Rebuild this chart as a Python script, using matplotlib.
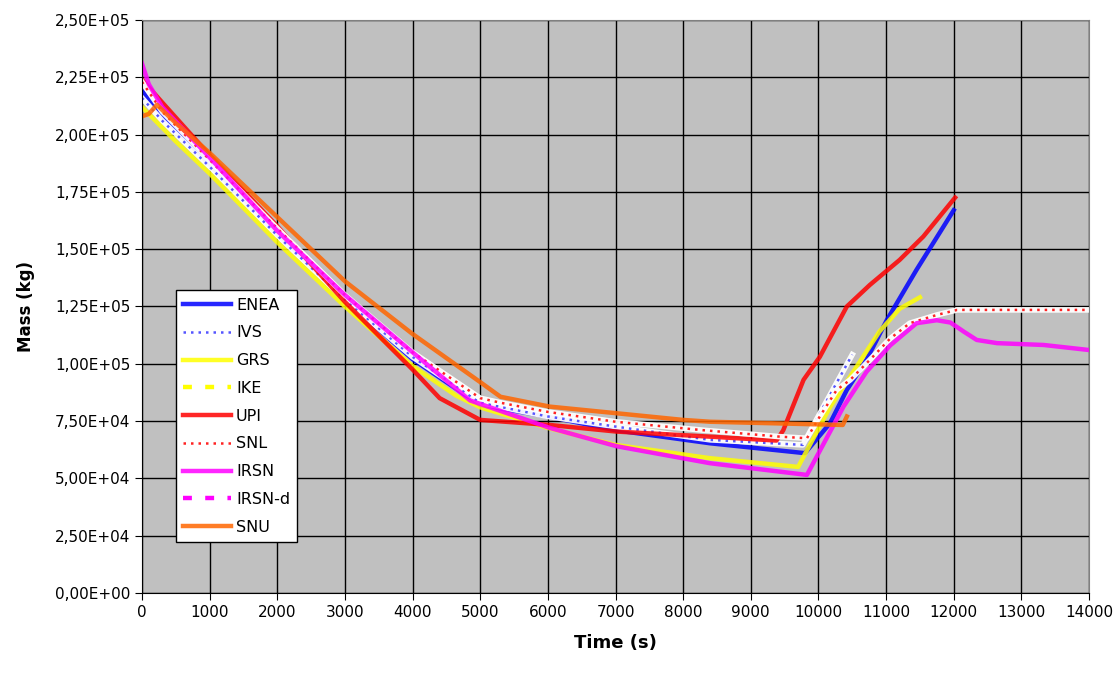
import numpy as np
import matplotlib
matplotlib.use("Agg")
import matplotlib.pyplot as plt
from matplotlib.ticker import FuncFormatter, MultipleLocator

# données (temps en s, masse en kg)
enea_t = [0, 300, 1000, 2000, 3000, 4000, 5000, 6000, 7000, 8400, 9800, 10170, 10420, 10710, 11010, 11450, 12000]
enea_m = [219e3, 208e3, 187e3, 157e3, 128e3, 102e3, 82e3, 77e3, 71e3, 65.3e3, 61e3, 74e3, 88.6e3, 101.7e3, 119e3, 141e3, 167e3]

ivs_t = [0, 300, 1000, 2000, 3000, 4000, 5000, 6000, 7000, 8400, 9770, 10070, 10500]
ivs_m = [216e3, 206e3, 186e3, 156e3, 128e3, 103e3, 83e3, 77e3, 72.6e3, 66.8e3, 64.6e3, 81e3, 104e3]

grs_t = [0, 500, 1000, 2000, 3000, 4000, 4650, 5000, 6000, 7000, 8400, 9700, 10170, 10570, 10900, 11200, 11500]
grs_m = [212e3, 197e3, 183e3, 153e3, 125e3, 99e3, 86e3, 81e3, 72e3, 64.6e3, 58.8e3, 55e3, 81e3, 99e3, 114e3, 124e3, 129e3]

# IKE et IRSN-d : seulement dans la légende
ike_t, ike_m = [], []
irsnd_t, irsnd_m = [], []

upi_t = [0, 300, 1000, 2000, 3000, 4000, 4400, 5000, 6030, 7020, 8400, 9380, 9480, 9780, 10020, 10420, 10760, 11200, 11550, 12020]
upi_m = [224e3, 214e3, 191e3, 160e3, 127e3, 97.5e3, 85e3, 75.5e3, 73.3e3, 70.4e3, 68.2e3, 66.5e3, 71e3, 93e3, 103e3, 125e3, 134.4e3, 145.3e3, 155.5e3, 172.5e3]

snl_t = [0, 300, 1000, 2000, 3000, 4000, 5000, 5300, 6000, 7000, 8300, 9430, 9830, 10020, 10270, 10470, 10760, 11060, 11350, 11750, 12050, 14000]
snl_m = [223e3, 210e3, 189e3, 159e3, 130e3, 105e3, 85e3, 83e3, 79e3, 74.7e3, 71e3, 68.2e3, 67.5e3, 77e3, 88.6e3, 93e3, 101.7e3, 111e3, 117.7e3, 121.3e3, 123.5e3, 123.5e3]

irsn_t = [0, 100, 300, 1000, 2000, 3000, 4000, 4850, 6030, 7020, 8400, 9830, 9975, 10370, 10710, 11060, 11450, 11750, 11950, 12150, 12340, 12640, 13330, 14000]
irsn_m = [231e3, 222e3, 212e3, 190e3, 158e3, 130e3, 105e3, 84e3, 72e3, 64e3, 56.6e3, 51.5e3, 59.5e3, 81.3e3, 96.5e3, 108e3, 117.7e3, 119e3, 118e3, 114e3, 110.4e3, 109e3, 108.2e3, 106e3]

snu_t = [0, 100, 220, 500, 1000, 2000, 3000, 4000, 5000, 5300, 6030, 7020, 8000, 8400, 10360, 10420]
snu_m = [208e3, 209e3, 213e3, 205e3, 192e3, 164e3, 136e3, 113e3, 92e3, 85.6e3, 81.3e3, 78.4e3, 75.5e3, 74.7e3, 73.3e3, 77e3]

fig = plt.figure(figsize=(11.19, 6.8), dpi=100)
ax = fig.add_axes([0.1269, 0.128, 0.8463, 0.8426])
ax.set_facecolor("#C0C0C0")

lw = 3.2
al = 0.85
ax.plot(enea_t, enea_m, color="#0000FF", lw=lw, alpha=al, label="ENEA")
# lignes pointillées : bande blanche + points colorés
ax.plot(ivs_t, ivs_m, color="white", lw=4, alpha=0.95)
ax.plot(ivs_t, ivs_m, color="#5555FF", lw=1.8, ls=(0, (1, 2)), label="IVS")
ax.plot(grs_t, grs_m, color="#FFFF00", lw=lw, alpha=al, label="GRS")
ax.plot(ike_t, ike_m, color="#FFFF00", lw=lw, ls=(0, (2, 3)), label="IKE")
ax.plot(upi_t, upi_m, color="#FF0000", lw=lw, alpha=al, label="UPI")
ax.plot(snl_t, snl_m, color="white", lw=4, alpha=0.95)
ax.plot(snl_t, snl_m, color="#FF2222", lw=1.8, ls=(0, (1, 2)), label="SNL")
ax.plot(irsn_t, irsn_m, color="#FF00FF", lw=lw, alpha=al, label="IRSN")
ax.plot(irsnd_t, irsnd_m, color="#FF00FF", lw=lw, ls=(0, (2, 3)), label="IRSN-d")
ax.plot(snu_t, snu_m, color="#FF6600", lw=lw, alpha=al, label="SNU")

ax.set_xlim(0, 14000)
ax.set_ylim(0, 250000)
ax.xaxis.set_major_locator(MultipleLocator(1000))
ax.yaxis.set_major_locator(MultipleLocator(25000))
ax.yaxis.set_major_formatter(FuncFormatter(lambda v, p: f"{v:.2E}".replace(".", ",")))
ax.grid(True, color="black", lw=1)
ax.set_axisbelow(True)
ax.tick_params(labelsize=11, length=5, color="black")

for s in ["top", "right"]:
    ax.spines[s].set_color("#808080")
for s in ["left", "bottom"]:
    ax.spines[s].set_color("black")

ax.set_xlabel("Time (s)", fontsize=13, fontweight="bold", labelpad=10)
ax.set_ylabel("Mass (kg)", fontsize=12, fontweight="bold", labelpad=14)

leg = ax.legend(loc="lower left", bbox_to_anchor=(0.036, 0.089), borderaxespad=0,
                fontsize=11.5, handlelength=3.0, handletextpad=0.3, borderpad=0.45,
                fancybox=False, framealpha=1, edgecolor="black", labelspacing=0.8)
leg.get_frame().set_linewidth(1)

fig.savefig("out.png", dpi=100)
